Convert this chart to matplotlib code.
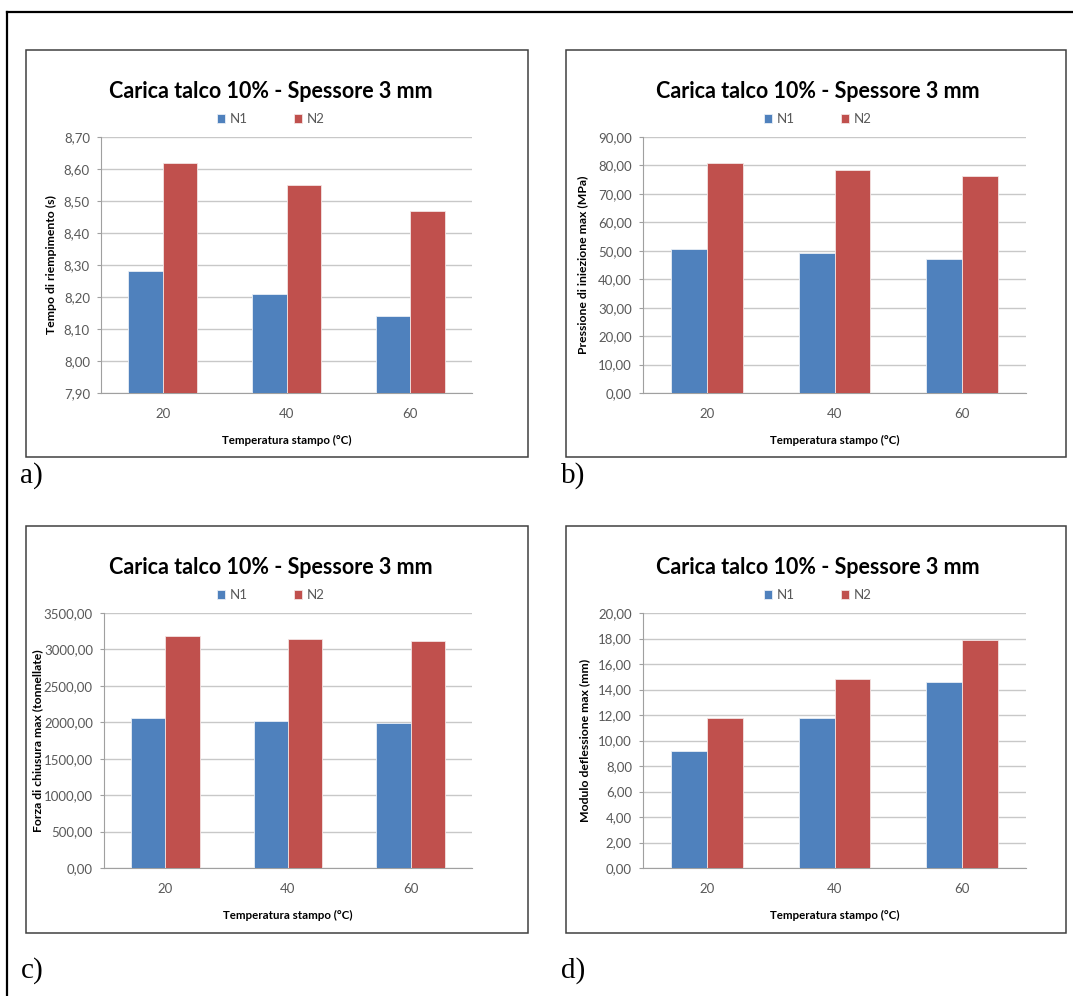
import matplotlib
matplotlib.use("Agg")
import matplotlib.pyplot as plt
import numpy as np
from matplotlib.lines import Line2D
from matplotlib.patches import Rectangle
from matplotlib.ticker import FuncFormatter, MultipleLocator

# data (four panels, two series each)
temps = ["20", "40", "60"]
series_names = ["N1", "N2"]

tempo_n1 = [8.28, 8.21, 8.14]
tempo_n2 = [8.62, 8.55, 8.47]

pressione_n1 = [50.6, 49.2, 47.2]
pressione_n2 = [80.8, 78.3, 76.2]

forza_n1 = [2060.0, 2015.0, 1990.0]
forza_n2 = [3178.0, 3140.0, 3112.0]

modulo_n1 = [9.20, 11.75, 14.55]
modulo_n2 = [11.75, 14.80, 17.90]

title = "Carica talco 10% - Spessore 3 mm"
xlabel = "Temperatura stampo (°C)"
ylabels = [
    "Tempo di riempimento (s)",
    "Pressione di iniezione max (MPa)",
    "Forza di chiusura max (tonnellate)",
    "Modulo deflessione max (mm)",
]
panel_tags = ["a)", "b)", "c)", "d)"]

BLUE = "#4F81BD"
RED = "#C0504D"
GRID = "#C8C8C8"
TXT = "#595959"
FONT = "Lato"

W, H = 1073, 996
fig = plt.figure(figsize=(W / 100, H / 100), dpi=100)


def fx(x):
    return x / W


def fy(y):
    return 1 - y / H


def ftext(x, y, s, **kw):
    fig.text(fx(x), fy(y), s, **kw)


# outer page border (only left and top visible in the crop)
fig.add_artist(Line2D([fx(7), fx(7)], [fy(12), 0], color="black", lw=1.6))
fig.add_artist(Line2D([fx(7), 1], [fy(12), fy(12)], color="black", lw=1.6))

# (box, plot area, ylabel x, ylim, step, n1, n2, tag pos)
panels = [
    ((26, 50, 528, 457), (101, 137, 472, 393), 51, (7.9, 8.7), 0.1,
     tempo_n1, tempo_n2, (20, 483)),
    ((566, 50, 1066, 457), (643, 137, 1026, 393), 583, (0, 90), 10,
     pressione_n1, pressione_n2, (561, 483)),
    ((26, 526, 528, 933), (104, 613, 472, 868), 38, (0, 3500), 500,
     forza_n1, forza_n2, (21, 978)),
    ((566, 526, 1066, 933), (643, 613, 1026, 868), 585, (0, 20), 2,
     modulo_n1, modulo_n2, (561, 978)),
]

comma_fmt = FuncFormatter(lambda v, pos: f"{v:.2f}".replace(".", ","))
x = np.arange(len(temps))
w = 0.28

for i, (box, area, ylab_x, ylim, step, n1, n2, tag) in enumerate(panels):
    bx0, by0, bx1, by1 = box
    fig.add_artist(Rectangle((fx(bx0), fy(by1)), fx(bx1 - bx0), (by1 - by0) / H,
                             fill=False, edgecolor="#404040", lw=1.1))

    x0, y0, x1, y1 = area
    ax = fig.add_axes([fx(x0), fy(y1), fx(x1 - x0), (y1 - y0) / H])
    ax.bar(x - w / 2, n1, w, color=BLUE, edgecolor="#e8eef6", lw=0.6,
           label=series_names[0], zorder=3)
    ax.bar(x + w / 2, n2, w, color=RED, edgecolor="#f3e3e3", lw=0.6,
           label=series_names[1], zorder=3)

    ax.set_xlim(-0.5, len(temps) - 0.5)
    ax.set_ylim(*ylim)
    ax.yaxis.set_major_locator(MultipleLocator(step))
    ax.yaxis.set_major_formatter(comma_fmt)
    ax.set_xticks(x)
    ax.set_xticklabels(temps)
    ax.grid(axis="y", color=GRID, lw=1.0, zorder=0)
    ax.set_axisbelow(True)
    for side in ("top", "right"):
        ax.spines[side].set_visible(False)
    ax.spines["left"].set_color("#A0A0A0")
    ax.spines["bottom"].set_color("#A0A0A0")
    ax.tick_params(axis="y", length=3, color="#A0A0A0", pad=5,
                   labelsize=9.5, labelcolor=TXT)
    ax.tick_params(axis="x", length=0, pad=11, labelsize=9.5, labelcolor=TXT)
    for lbl in ax.get_xticklabels() + ax.get_yticklabels():
        lbl.set_fontfamily(FONT)

    cx = (bx0 + bx1) / 2 - 6 if i % 2 == 0 else (bx0 + bx1) / 2 + 2
    ftext(cx, by0 + 41, title, ha="center", va="center", fontsize=15.5,
          fontweight="bold", family=FONT, color="black")
    ax.legend(loc="center", bbox_to_anchor=(fx(cx), fy(by0 + 69)),
              bbox_transform=fig.transFigure, ncol=2, frameon=False,
              handlelength=0.6, handleheight=0.6, handletextpad=0.35,
              columnspacing=3.5, prop={"family": FONT, "size": 9.5},
              labelcolor=TXT)

    ftext(ylab_x, (y0 + y1) / 2, ylabels[i], rotation=90, ha="center",
          va="center", fontsize=8.8, fontweight="bold", family=FONT)
    ftext((x0 + x1) / 2, y1 + 47, xlabel, ha="center", va="center",
          fontsize=8.3, fontweight="bold", family=FONT)

    ftext(tag[0], tag[1], panel_tags[i], ha="left", va="baseline",
          fontsize=21, family="Liberation Serif")

fig.savefig("out.png", dpi=100, facecolor="white")
